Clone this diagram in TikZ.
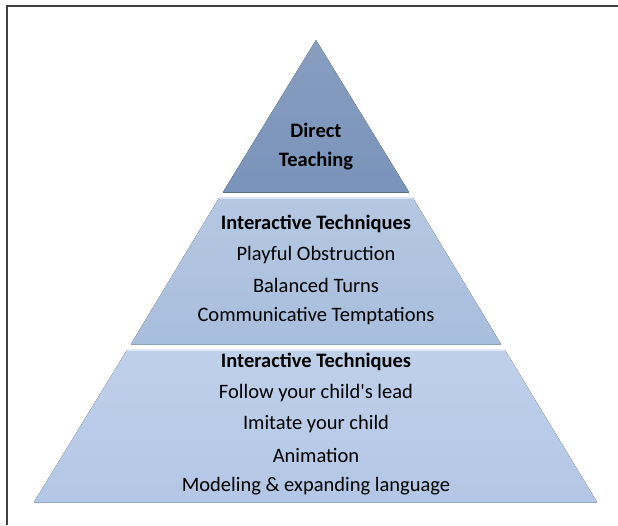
\documentclass[tikz,border=0pt]{standalone}
\usepackage{fontspec}
\setmainfont{Carlito}[Ligatures=TeXOff]
\definecolor{tiertop}{HTML}{7A93BA}
\definecolor{tiermid}{HTML}{A8BEDD}
\definecolor{tierlow}{HTML}{B3C7E6}
\begin{document}
\begin{tikzpicture}[x=1pt,y=-1pt,line width=0.4pt,every node/.style={font=\fontsize{20.5}{24}\selectfont,inner sep=1pt},
  head/.style={font=\fontsize{20.5}{24}\selectfont\bfseries}]
\useasboundingbox (0,0) rectangle (618,525);
\coordinate (T) at (316,40);
\coordinate (T1) at (223,192);
\coordinate (T2) at (409,192);
\coordinate (M1) at (219,198);
\coordinate (M2) at (413,198);
\coordinate (M3) at (501,344);
\coordinate (M4) at (131,344);
\coordinate (B1) at (127,350);
\coordinate (B2) at (505,350);
\coordinate (B3) at (597,502);
\coordinate (B4) at (34,502);
\draw[line width=2pt,black!75] (6.5,525) -- (6.5,5.5) -- (618,5.5);
\fill[top color=tiertop!90!white,bottom color=tiertop] (T) -- (T2) -- (T1) -- cycle;
\fill[top color=tiermid!85!white,bottom color=tiermid] (M1) -- (M2) -- (M3) -- (M4) -- cycle;
\fill[top color=tierlow!85!white,bottom color=tierlow] (B1) -- (B2) -- (B3) -- (B4) -- cycle;
\draw[tiertop!75!black,line width=1pt] (T1) -- (T2);
\draw[tiermid!85!black,line width=1pt] (M4) -- (M3);
\draw[tierlow!85!black,line width=1pt] (B4) -- (B3);
\draw[white!60!tiermid,line width=1.5pt] (M1) -- (M2);
\draw[white!60!tierlow,line width=1.5pt] (B1) -- (B2);
\node[head] (dir) at (316,130) {Direct};
\node[head] (tea) at (316,161) {Teaching};
\node[head] (ihead) at (316,224) {Interactive Techniques};
\node (play) at (316,255) {Playful Obstruction};
\node (turn) at (316,285) {Balanced Turns};
\node (temp) at (316,316) {Communicative Temptations};
\node[head] (jhead) at (316,362) {Interactive Techniques};
\node (lead) at (316,393) {Follow your child's lead};
\node (imit) at (316,424) {Imitate your child};
\node (anim) at (316,455) {Animation};
\node (mode) at (316,486) {Modeling \& expanding language};
\end{tikzpicture}
\end{document}
